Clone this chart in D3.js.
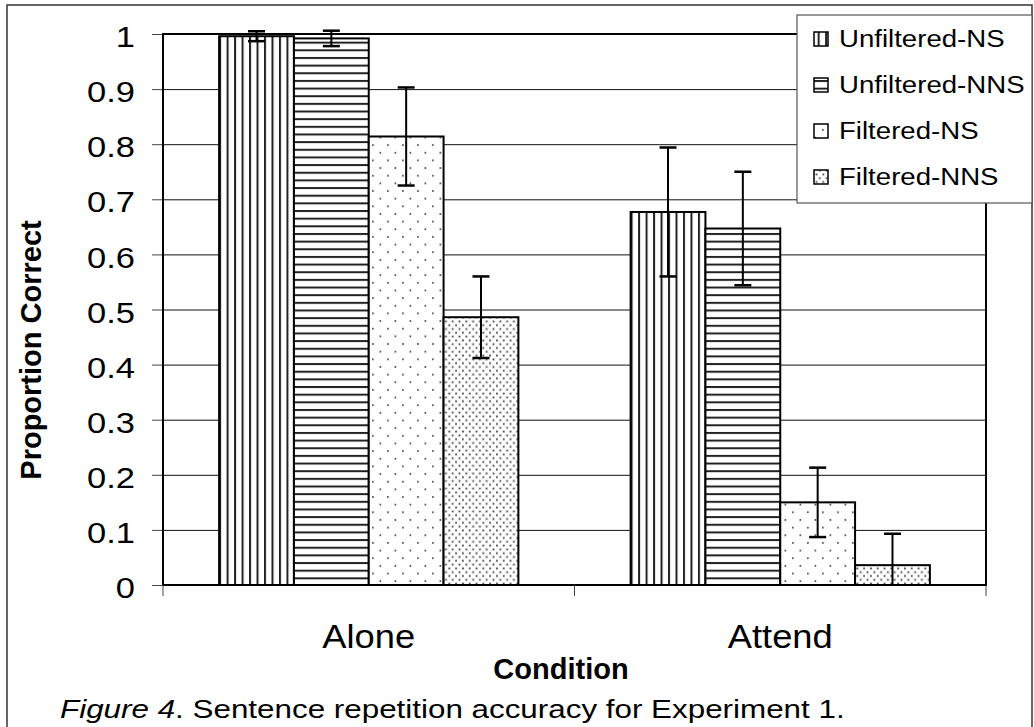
<!DOCTYPE html>
<html>
<head>
<meta charset="utf-8">
<script src="https://cdn.jsdelivr.net/npm/d3@7"></script>
<style>
  body { margin: 0; background: #fff; }
  svg { display: block; font-family: "Liberation Sans", Arial, sans-serif; }
</style>
</head>
<body>
<svg id="chart" width="1034" height="727"></svg>
<script>
'use strict';

// data
var categories = ['Alone', 'Attend'];
var seriesNames = ['Unfiltered-NS', 'Unfiltered-NNS', 'Filtered-NS', 'Filtered-NNS'];
var unfilteredNS = [0.996, 0.677];
var unfilteredNNS = [0.992, 0.647];
var filteredNS = [0.814, 0.150];
var filteredNNS = [0.486, 0.036];
var errUnfilteredNS = [0.009, 0.117];
var errUnfilteredNNS = [0.014, 0.103];
var errFilteredNS = [0.089, 0.063];
var errFilteredNNS = [0.074, 0.057];
var yTicks = [0, 0.1, 0.2, 0.3, 0.4, 0.5, 0.6, 0.7, 0.8, 0.9, 1];
var yTickLabels = ['0', '0.1', '0.2', '0.3', '0.4', '0.5', '0.6', '0.7', '0.8', '0.9', '1'];
var gridValues = [0.1, 0.2, 0.3, 0.4, 0.5, 0.6, 0.7, 0.8, 0.9];

var values = [unfilteredNS, unfilteredNNS, filteredNS, filteredNNS];
var errors = [errUnfilteredNS, errUnfilteredNNS, errFilteredNS, errFilteredNNS];
var patternIds = ['pat-vert', 'pat-horiz', 'pat-dots', 'pat-dense'];

var rows = [];
categories.forEach(function(cat, ci) {
  seriesNames.forEach(function(s, si) {
    rows.push({ cat: cat, series: s, si: si, value: values[si][ci], err: errors[si][ci] });
  });
});

var plotL = 163, plotR = 986, plotT = 34, plotB = 585;
var textStretch = 1.15;

var svg = d3.select('#chart');

var x0 = d3.scaleBand().domain(categories).range([plotL, plotR]).padding(0);
var x1 = d3.scaleBand().domain(seriesNames).range([0, x0.bandwidth()])
  .paddingInner(0).paddingOuter(0.75);
var y = d3.scaleLinear().domain([0, 1]).range([plotB, plotT]);

var bw = x1.bandwidth();
var firstX = x0(categories[0]) + x1(seriesNames[0]);

// fill patterns
var defs = svg.append('defs');

var pv = defs.append('pattern').attr('id', 'pat-vert')
  .attr('patternUnits', 'userSpaceOnUse')
  .attr('x', firstX).attr('y', 0)
  .attr('width', bw / 10).attr('height', 10);
pv.append('rect').attr('width', bw / 10).attr('height', 10).attr('fill', '#fff');
pv.append('rect').attr('x', 0).attr('width', 2).attr('height', 10).attr('fill', '#222');

var hStep = (plotB - plotT) / 72;
var ph = defs.append('pattern').attr('id', 'pat-horiz')
  .attr('patternUnits', 'userSpaceOnUse')
  .attr('x', 0).attr('y', plotB)
  .attr('width', 10).attr('height', hStep);
ph.append('rect').attr('width', 10).attr('height', hStep).attr('fill', '#fff');
ph.append('rect').attr('y', 0).attr('width', 10).attr('height', 2).attr('fill', '#222');

var pd = defs.append('pattern').attr('id', 'pat-dots')
  .attr('patternUnits', 'userSpaceOnUse')
  .attr('x', firstX).attr('y', plotB)
  .attr('width', 15).attr('height', 15.3);
pd.append('rect').attr('width', 15).attr('height', 15.3).attr('fill', '#fff');
pd.append('rect').attr('x', 3).attr('y', 3).attr('width', 1.6).attr('height', 1.6).attr('fill', '#333');
pd.append('rect').attr('x', 10.5).attr('y', 10.65).attr('width', 1.6).attr('height', 1.6).attr('fill', '#333');

var pn = defs.append('pattern').attr('id', 'pat-dense')
  .attr('patternUnits', 'userSpaceOnUse')
  .attr('x', firstX).attr('y', plotB)
  .attr('width', 6.8).attr('height', 7.6);
pn.append('rect').attr('width', 6.8).attr('height', 7.6).attr('fill', '#fff');
pn.append('rect').attr('x', 1.5).attr('y', 1.5).attr('width', 1.8).attr('height', 1.8).attr('fill', '#444');
pn.append('rect').attr('x', 4.9).attr('y', 5.3).attr('width', 1.8).attr('height', 1.8).attr('fill', '#444');

// outer frame
svg.append('rect')
  .attr('x', 7).attr('y', 5).attr('width', 1025).attr('height', 760)
  .attr('fill', 'none').attr('stroke', '#333').attr('stroke-width', 1.5);

// gridlines
svg.append('g')
  .attr('transform', 'translate(' + plotL + ',0)')
  .call(d3.axisLeft(y).tickValues(gridValues).tickSize(-(plotR - plotL)).tickFormat(''))
  .call(function(g) {
    g.select('.domain').remove();
    g.selectAll('line').attr('stroke', '#111').attr('stroke-width', 1);
  });

// plot frame
svg.append('rect')
  .attr('x', plotL).attr('y', plotT).attr('width', plotR - plotL).attr('height', plotB - plotT)
  .attr('fill', 'none').attr('stroke', '#000').attr('stroke-width', 2);

// y axis ticks + labels
var yAxis = svg.append('g')
  .attr('transform', 'translate(' + plotL + ',0)')
  .call(d3.axisLeft(y).tickValues(yTicks).tickSize(11).tickPadding(0)
    .tickFormat(function(d, i) { return yTickLabels[i]; }));
yAxis.select('.domain').remove();
yAxis.selectAll('line').attr('stroke', '#444').attr('stroke-width', 1);
yAxis.selectAll('text')
  .attr('x', -28 / textStretch)
  .attr('dy', '0.42em')
  .attr('font-size', 30)
  .attr('fill', '#000')
  .attr('font-family', '"Liberation Sans", Arial, sans-serif')
  .attr('transform', 'scale(' + textStretch + ',1)');

// x axis boundary ticks
var xEdges = categories.map(function(c) { return x0(c); }).concat([plotR]);
svg.append('g').selectAll('line')
  .data(xEdges)
  .join('line')
  .attr('x1', function(d) { return d; }).attr('x2', function(d) { return d; })
  .attr('y1', plotB).attr('y2', plotB + 11)
  .attr('stroke', '#444').attr('stroke-width', 1);

// x axis category labels
var xAxis = svg.append('g')
  .attr('transform', 'translate(0,' + plotB + ')')
  .call(d3.axisBottom(x0).tickSize(0).tickPadding(0));
xAxis.select('.domain').remove();
xAxis.selectAll('text')
  .attr('y', 0)
  .attr('dy', 0)
  .attr('x', 0)
  .attr('font-size', 33)
  .attr('fill', '#000')
  .attr('font-family', '"Liberation Sans", Arial, sans-serif')
  .attr('transform', 'translate(0,63) scale(1.1,1)');

// bars
svg.append('g').selectAll('rect')
  .data(rows)
  .join('rect')
  .attr('x', function(d) { return x0(d.cat) + x1(d.series); })
  .attr('y', function(d) { return y(d.value); })
  .attr('width', bw)
  .attr('height', function(d) { return plotB - y(d.value); })
  .attr('fill', function(d) { return 'url(#' + patternIds[d.si] + ')'; })
  .attr('stroke', '#000')
  .attr('stroke-width', 2);

// axis lines over the bars
svg.append('line').attr('x1', plotL).attr('x2', plotR).attr('y1', plotB).attr('y2', plotB)
  .attr('stroke', '#000').attr('stroke-width', 2);
svg.append('line').attr('x1', plotL).attr('x2', plotL).attr('y1', plotT).attr('y2', plotB)
  .attr('stroke', '#000').attr('stroke-width', 2);

// error bars
var capHalf = 8.5;
function barMid(d) { return x0(d.cat) + x1(d.series) + bw / 2; }
var eb = svg.append('g').selectAll('g')
  .data(rows)
  .join('g')
  .attr('stroke', '#000')
  .attr('stroke-width', 2);
eb.append('line')
  .attr('x1', barMid).attr('x2', barMid)
  .attr('y1', function(d) { return y(d.value + d.err); })
  .attr('y2', function(d) { return y(Math.max(0, d.value - d.err)); });
eb.append('line')
  .attr('x1', function(d) { return barMid(d) - capHalf; })
  .attr('x2', function(d) { return barMid(d) + capHalf; })
  .attr('y1', function(d) { return y(d.value + d.err); })
  .attr('y2', function(d) { return y(d.value + d.err); })
  .attr('stroke-width', 2.5);
eb.filter(function(d) { return d.value - d.err > 0; })
  .append('line')
  .attr('x1', function(d) { return barMid(d) - capHalf; })
  .attr('x2', function(d) { return barMid(d) + capHalf; })
  .attr('y1', function(d) { return y(d.value - d.err); })
  .attr('y2', function(d) { return y(d.value - d.err); })
  .attr('stroke-width', 2.5);

// axis titles
svg.append('text')
  .attr('transform', 'translate(41,350) rotate(-90)')
  .attr('text-anchor', 'middle')
  .attr('font-size', 29)
  .attr('font-weight', 'bold')
  .text('Proportion Correct');

svg.append('text')
  .attr('x', 561).attr('y', 679)
  .attr('text-anchor', 'middle')
  .attr('font-size', 29)
  .attr('font-weight', 'bold')
  .text('Condition');

// legend
var legend = svg.append('g');
legend.append('rect')
  .attr('x', 797).attr('y', 15).attr('width', 235).attr('height', 188)
  .attr('fill', '#fff').attr('stroke', '#555').attr('stroke-width', 1.2);

var legRow = 46;
var item = legend.selectAll('g.item')
  .data(seriesNames)
  .join('g')
  .attr('class', 'item')
  .attr('transform', function(d, i) { return 'translate(0,' + (i * legRow) + ')'; });
item.append('rect')
  .attr('x', 814).attr('y', 32).attr('width', 14).attr('height', 14)
  .attr('fill', function(d, i) { return 'url(#' + patternIds[i] + ')'; })
  .attr('stroke', '#000').attr('stroke-width', 1.5);
item.append('text')
  .attr('transform', 'translate(839,47) scale(' + textStretch + ',1)')
  .attr('font-size', 24)
  .text(function(d) { return d; });

// caption, fitted to the width it takes in the figure
var cap = svg.append('text')
  .attr('font-size', 25);
cap.append('tspan').attr('font-style', 'italic').text('Figure 4');
cap.append('tspan').text('. Sentence repetition accuracy for Experiment 1.');
var capW = cap.node().getBBox().width;
cap.attr('transform', 'translate(60,718) scale(' + (785 / capW) + ',1)');
</script>
</body>
</html>
